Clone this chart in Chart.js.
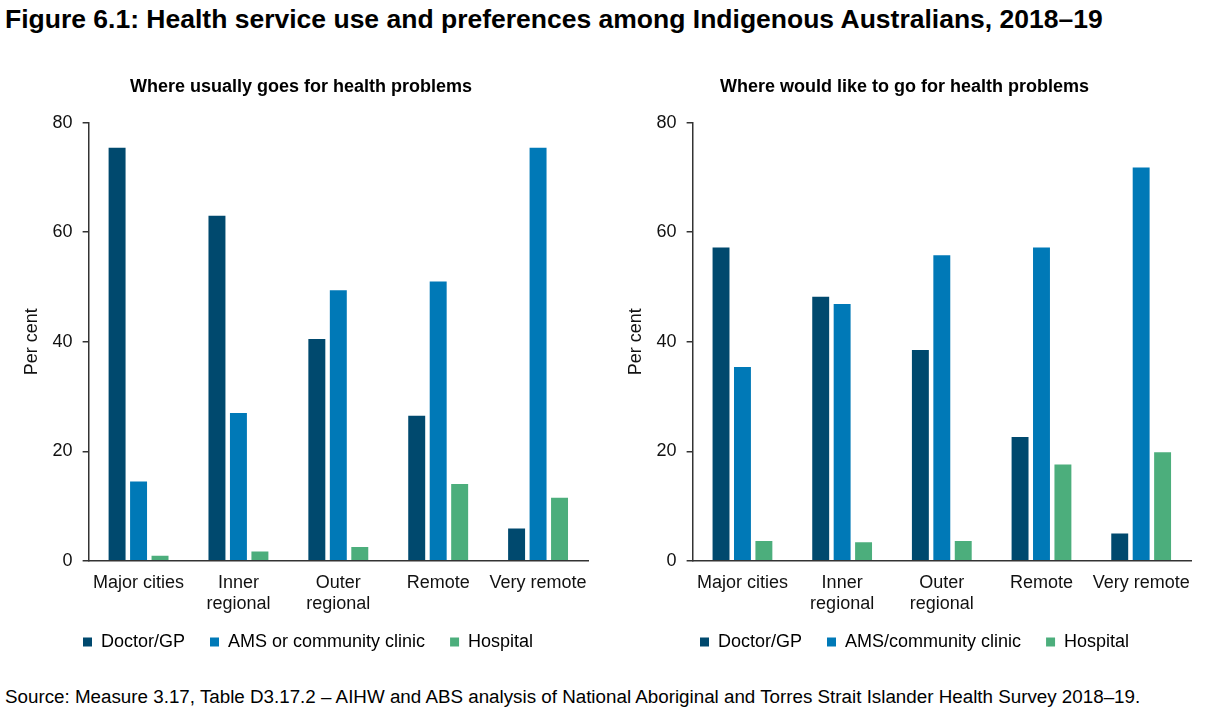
<!DOCTYPE html>
<html>
<head>
<meta charset="utf-8">
<script src="https://cdn.jsdelivr.net/npm/chart.js@4"></script>
<style>
  body { margin: 0; background: #fff; font-family: "Liberation Sans", Arial, sans-serif; }
  #page { position: relative; width: 1218px; height: 712px; overflow: hidden; }
  #title { position: absolute; left: 5px; top: 4px; font-size: 26.5px; line-height: 30px; font-weight: bold; color: #000; white-space: nowrap; }
  #source { position: absolute; left: 5px; top: 686px; font-size: 18.8px; line-height: 22px; color: #000; white-space: nowrap; }
  .box { position: absolute; top: 60px; height: 619px; }
</style>
</head>
<body>
<div id="page">
  <div id="title">Figure 6.1: Health service use and preferences among Indigenous Australians, 2018–19</div>
  <div class="box" style="left:0;width:600px"><canvas id="left"></canvas></div>
  <div class="box" style="left:604px;width:614px"><canvas id="right"></canvas></div>
  <div id="source">Source: Measure 3.17, Table D3.17.2 – AIHW and ABS analysis of National Aboriginal and Torres Strait Islander Health Survey 2018–19.</div>
</div>
<script>
// remoteness categories
const categories = ['Major cities', ['Inner', 'regional'], ['Outer', 'regional'], 'Remote', 'Very remote'];

// where usually goes (per cent)
const usualDoctor = [75.4, 63.0, 40.5, 26.5, 5.9];
const usualAms = [14.5, 27.0, 49.4, 51.0, 75.4];
const usualHospital = [0.9, 1.7, 2.5, 14.0, 11.5];

// where would like to go (per cent)
const prefDoctor = [57.2, 48.2, 38.5, 22.6, 5.0];
const prefAms = [35.4, 46.9, 55.8, 57.2, 71.8];
const prefHospital = [3.6, 3.4, 3.6, 17.6, 19.8];

const yTicks = [0, 20, 40, 60, 80];

const colors = {
    doctor: '#00496e',
    ams: '#0079b7',
    hospital: '#4cae7c'
};

const font = "'Liberation Sans', Arial, sans-serif";
const legendPad = 25;
const legendFont = 18;

// moves the legend so its first box starts at x and its row is centred on y
const legendShift = {
    id: 'legendShift',
    afterLayout(chart, args, opts) {
        const lg = chart.legend;
        if (!lg) return;
        const w = lg.right - lg.left;
        const h = lg.bottom - lg.top;
        lg.left = opts.x - legendPad;
        lg.right = lg.left + w;
        lg.top = opts.y - legendPad - legendFont / 2;
        lg.bottom = lg.top + h;
    }
};

function makeChart(canvasId, title, amsLabel, doctor, ams, hospital, rightPad, legendX) {
    const ctx = document.getElementById(canvasId);
    return new Chart(ctx, {
        type: 'bar',
        data: {
            labels: categories,
            datasets: [
                { label: 'Doctor/GP', data: doctor, backgroundColor: colors.doctor },
                { label: amsLabel, data: ams, backgroundColor: colors.ams },
                { label: 'Hospital', data: hospital, backgroundColor: colors.hospital }
            ]
        },
        plugins: [legendShift],
        options: {
            responsive: true,
            maintainAspectRatio: false,
            animation: false,
            layout: { padding: { left: 14, right: rightPad, top: 0, bottom: 0 } },
            datasets: {
                bar: { categoryPercentage: 0.645, barPercentage: 0.79 }
            },
            plugins: {
                legendShift: { x: legendX, y: 582 },
                title: {
                    display: true,
                    text: title,
                    color: '#000',
                    font: { family: font, size: 18, weight: 'bold' },
                    padding: { top: 16, bottom: 25 }
                },
                legend: {
                    position: 'bottom',
                    align: 'start',
                    labels: {
                        color: '#000',
                        font: { family: font, size: legendFont },
                        boxWidth: 9,
                        boxHeight: 9,
                        padding: legendPad
                    }
                },
                tooltip: { enabled: false }
            },
            scales: {
                x: {
                    grid: { display: false, drawTicks: false },
                    border: { display: true, color: '#333', width: 1.5 },
                    ticks: {
                        color: '#111',
                        font: { family: font, size: 18 },
                        padding: 11,
                        maxRotation: 0,
                        autoSkip: false
                    }
                },
                y: {
                    min: 0,
                    max: 80,
                    afterBuildTicks: axis => {
                        axis.ticks = yTicks.map(v => ({ value: v }));
                    },
                    grid: {
                        drawOnChartArea: false,
                        drawTicks: true,
                        tickLength: 6,
                        color: '#333',
                        lineWidth: 1.5
                    },
                    border: { display: true, color: '#333', width: 1.5 },
                    ticks: {
                        color: '#111',
                        font: { family: font, size: 18 },
                        padding: 10
                    },
                    title: {
                        display: true,
                        text: 'Per cent',
                        color: '#111',
                        font: { family: font, size: 18 },
                        padding: { top: 7, bottom: 0 }
                    }
                }
            }
        }
    });
}

makeChart('left', 'Where usually goes for health problems', 'AMS or community clinic',
    usualDoctor, usualAms, usualHospital, 12, 83);
makeChart('right', 'Where would like to go for health problems', 'AMS/community clinic',
    prefDoctor, prefAms, prefHospital, 27, 96);
</script>
</body>
</html>
